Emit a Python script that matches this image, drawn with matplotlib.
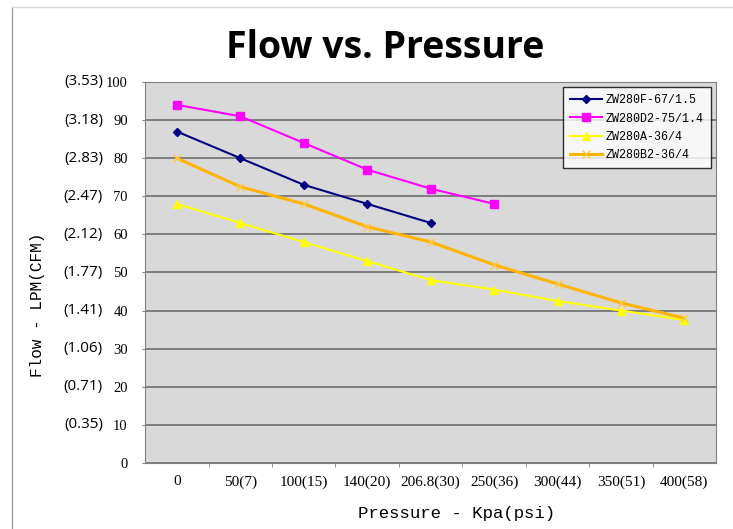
import numpy as np
from matplotlib import pyplot as plt

# categories on the pressure axis
pressure_labels = ["0", "50(7)", "100(15)", "140(20)", "206.8(30)",
                   "250(36)", "300(44)", "350(51)", "400(58)"]

# flow values (LPM)
zw280f = [87, 80, 73, 68, 63]
zw280d2 = [94, 91, 84, 77, 72, 68]
zw280a = [68, 63, 58, 53, 48, 45.5, 42.5, 40, 37.5]
zw280b2 = [80, 72.5, 68, 62, 58, 52, 47, 42, 38]

y_ticks = [0, 10, 20, 30, 40, 50, 60, 70, 80, 90, 100]
cfm_labels = ["", "(0.35)", "(0.71)", "(1.06)", "(1.41)", "(1.77)",
              "(2.12)", "(2.47)", "(2.83)", "(3.18)", "(3.53)"]

mono = "Liberation Mono"
serif = "Liberation Serif"

fig = plt.figure(figsize=(7.33, 5.29), dpi=100)
ax = fig.add_axes([0.198, 0.125, 0.779, 0.72])
ax.set_facecolor("#d9d9d9")

x = np.arange(len(pressure_labels))
ax.plot(x[:len(zw280f)], zw280f, color="#000080", lw=1.5, marker="D", ms=4,
        label="ZW280F-67/1.5", zorder=4)
ax.plot(x[:len(zw280d2)], zw280d2, color="#ff00ff", lw=1.5, marker="s", ms=5.5,
        label="ZW280D2-75/1.4", zorder=4)
ax.plot(x[:len(zw280a)], zw280a, color="#ffff00", lw=1.5, marker="^", ms=6,
        label="ZW280A-36/4", zorder=4)
ax.plot(x[:len(zw280b2)], zw280b2, color="#ffb400", lw=2.2, marker="x", ms=6,
        mec="#ffc840", mew=1, label="ZW280B2-36/4", zorder=4)

ax.set_xlim(-0.5, len(pressure_labels) - 0.5)
ax.set_ylim(0, 100)
ax.set_yticks(y_ticks)
ax.set_yticklabels([str(v) for v in y_ticks], family=serif, fontsize=10.5)
ax.set_xticks(x)
ax.set_xticklabels(pressure_labels, family=serif, fontsize=11)
ax.tick_params(axis="x", which="major", length=0, pad=9)
ax.set_xticks(np.arange(0.5, len(pressure_labels) - 0.5), minor=True)
ax.tick_params(axis="x", which="minor", length=3, color="#808080")
ax.tick_params(axis="y", length=2.5, color="#808080", pad=10)
ax.yaxis.grid(True, color="#6e6e6e", lw=1.2)
ax.set_axisbelow(True)
for s in ax.spines.values():
    s.set_color("#808080")

for v, lab in zip(y_ticks, cfm_labels):
    ax.text(-0.074, v, lab, transform=ax.get_yaxis_transform(), ha="right",
            va="center", fontsize=11, family="Open Sans")

ax.set_ylabel("Flow - LPM(CFM)", family=mono, fontsize=11.5)
ax.yaxis.set_label_coords(-0.175, 0.416)
ax.set_xlabel("Pressure - Kpa(psi)", family=mono, fontsize=12.5)
ax.xaxis.set_label_coords(0.545, -0.113)

fig.text(0.525, 0.91, "Flow vs. Pressure", fontsize=27, fontweight="bold",
         family="Open Sans", ha="center", va="center")

leg = ax.legend(loc="upper right", prop={"family": mono, "size": 8.4},
                frameon=True, fancybox=False, edgecolor="black",
                borderaxespad=0.45, handlelength=2.8, labelspacing=0.54,
                borderpad=0.6, handletextpad=0.3)
leg.get_frame().set_linewidth(1)

fig.add_artist(plt.Line2D([0.017, 0.017], [0, 0.987], color="#a0a0a0", lw=1))
fig.add_artist(plt.Line2D([0.017, 1], [0.987, 0.987], color="#d8d8d8", lw=1))

fig.savefig("out.png", dpi=100)
